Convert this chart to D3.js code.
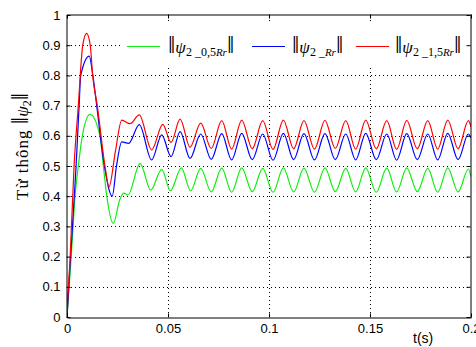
<!DOCTYPE html>
<html>
<head>
<meta charset="utf-8">
<script src="https://cdn.jsdelivr.net/npm/d3@7"></script>
<style>
  body { margin: 0; background: #fff; }
  svg { display: block; }
</style>
</head>
<body>
<svg id="chart" width="476" height="347"></svg>
<script>
// tick values
const xTickVals = [0, 0.05, 0.1, 0.15, 0.2];
const yTickVals = [0, 0.1, 0.2, 0.3, 0.4, 0.5, 0.6, 0.7, 0.8, 0.9, 1];

// start-up transient [t, value]
const greenStart = [[0, 0], [0.002, 0.19], [0.004, 0.4], [0.0056, 0.5], [0.0076, 0.6], [0.0114, 0.671],
  [0.0163, 0.6], [0.018, 0.5], [0.0197, 0.4], [0.0229, 0.31], [0.0262, 0.39], [0.028, 0.41],
  [0.0302, 0.404], [0.0362, 0.509], [0.0414, 0.42], [0.0469, 0.489], [0.0512, 0.418],
  [0.0566, 0.494], [0.0612, 0.418], [0.0662, 0.492]];
const blueStart = [[0, 0], [0.0015, 0.17], [0.0045, 0.5], [0.006, 0.7], [0.0068, 0.8], [0.011, 0.864],
  [0.0128, 0.8], [0.0147, 0.7], [0.0185, 0.5], [0.0224, 0.40], [0.0245, 0.5], [0.0271, 0.58],
  [0.0305, 0.575], [0.0358, 0.637], [0.0419, 0.52], [0.0469, 0.603], [0.0515, 0.531],
  [0.056, 0.614], [0.0609, 0.525], [0.0662, 0.606]];
const redStart = [[0, 0], [0.0003, 0.05], [0.0015, 0.19], [0.0035, 0.5], [0.0056, 0.7], [0.0078, 0.9],
  [0.0097, 0.939], [0.0115, 0.9], [0.0127, 0.8], [0.015, 0.7], [0.0188, 0.5], [0.0208, 0.431],
  [0.024, 0.55], [0.0271, 0.652], [0.0312, 0.64], [0.0358, 0.669], [0.0419, 0.553],
  [0.0474, 0.638], [0.0515, 0.578], [0.056, 0.655], [0.0609, 0.562], [0.0662, 0.642]];

// steady ripple: times of troughs / peaks, then values per series
const tSteady = [0.0714, 0.0766, 0.0815, 0.0865, 0.0917, 0.0969, 0.1020, 0.1071, 0.1122, 0.1173,
  0.1225, 0.1277, 0.1328, 0.1380, 0.1429, 0.1479, 0.1531, 0.1583, 0.1632, 0.1682, 0.1734,
  0.1786, 0.1835, 0.1885, 0.1936, 0.1987, 0.2];
const greenSteady = [0.414, 0.493, 0.413, 0.494, 0.415, 0.492, 0.413, 0.494, 0.414, 0.493, 0.413,
  0.494, 0.415, 0.492, 0.414, 0.494, 0.413, 0.493, 0.414, 0.494, 0.415, 0.492, 0.413, 0.494,
  0.414, 0.49, 0.465];
const blueSteady = [0.522, 0.607, 0.520, 0.608, 0.521, 0.606, 0.519, 0.608, 0.521, 0.607, 0.520,
  0.607, 0.521, 0.606, 0.520, 0.608, 0.521, 0.606, 0.519, 0.607, 0.521, 0.606, 0.520, 0.608,
  0.521, 0.606, 0.593];
const redSteady = [0.558, 0.650, 0.556, 0.652, 0.557, 0.650, 0.555, 0.652, 0.557, 0.650, 0.556,
  0.651, 0.558, 0.650, 0.556, 0.652, 0.557, 0.650, 0.555, 0.651, 0.557, 0.650, 0.556, 0.652,
  0.557, 0.650, 0.63];

const seriesNames = ["_0,5", "_", "_1,5"];
const seriesColors = ["#11ee11", "#0000ff", "#ff0000"];

const svg = d3.select("#chart");
const x = d3.scaleLinear().domain([0, 0.2]).range([67, 471]);
const y = d3.scaleLinear().domain([0, 1]).range([317, 15]);
const fmt = d => String(+d.toFixed(2));

svg.append("rect").attr("width", 476).attr("height", 347).attr("fill", "#fff");

svg.append("clipPath").attr("id", "plot")
  .append("rect").attr("x", 67).attr("y", 15).attr("width", 404).attr("height", 302);

// dotted grid
const grid = svg.append("g").attr("stroke", "#000").attr("stroke-width", 1)
  .attr("stroke-dasharray", "1,3").attr("shape-rendering", "crispEdges");
grid.selectAll(".gx").data(xTickVals.slice(1, -1)).join("line")
  .attr("x1", d => Math.round(x(d)) + 0.5).attr("x2", d => Math.round(x(d)) + 0.5)
  .attr("y1", y(0)).attr("y2", y(1));
grid.selectAll(".gy").data(yTickVals.slice(1, -1)).join("line")
  .attr("y1", d => Math.round(y(d)) + 0.5).attr("y2", d => Math.round(y(d)) + 0.5)
  .attr("x1", x(0)).attr("x2", x(0.2));

// legend box hides the grid behind it
svg.append("rect").attr("x", 122).attr("y", 23).attr("width", 346).attr("height", 45).attr("fill", "#fff");

// curves
const line = d3.line().x(d => x(d[0])).y(d => y(d[1])).curve(d3.curveMonotoneX);
const allSeries = [
  greenStart.concat(tSteady.map((t, i) => [t, greenSteady[i]])),
  blueStart.concat(tSteady.map((t, i) => [t, blueSteady[i]])),
  redStart.concat(tSteady.map((t, i) => [t, redSteady[i]]))
];
svg.append("g").attr("clip-path", "url(#plot)")
  .selectAll("path").data(allSeries).join("path")
  .attr("d", line).attr("fill", "none")
  .attr("stroke", (d, i) => seriesColors[i]).attr("stroke-width", 1.2);

// axes, ticks pointing inwards
const tickFont = g => g.selectAll("text").attr("font-family", "Liberation Sans, Arial, sans-serif")
  .attr("font-size", 13).attr("fill", "#000");
const bottom = svg.append("g").attr("transform", "translate(0,317.5)")
  .call(d3.axisBottom(x).tickValues(xTickVals).tickFormat(fmt).tickSizeInner(-4).tickSizeOuter(0).tickPadding(6))
  .call(tickFont);
const left = svg.append("g").attr("transform", "translate(66.5,0)")
  .call(d3.axisLeft(y).tickValues(yTickVals).tickFormat(fmt).tickSizeInner(-4).tickSizeOuter(0).tickPadding(6))
  .call(tickFont);
svg.append("g").attr("transform", "translate(0,14.5)")
  .call(d3.axisTop(x).tickValues(xTickVals).tickFormat("").tickSizeInner(-4).tickSizeOuter(0));
svg.append("g").attr("transform", "translate(470.5,0)")
  .call(d3.axisRight(y).tickValues(yTickVals).tickFormat("").tickSizeInner(-4).tickSizeOuter(0));
svg.selectAll(".domain").attr("stroke", "#000");
svg.selectAll(".tick line").attr("stroke", "#000");

// legend
const legX = [127, 252, 356];
const legTextX = [168, 292, 395];
const leg = svg.append("g");
seriesNames.forEach((name, i) => {
  leg.append("line").attr("x1", legX[i]).attr("x2", legX[i] + 33).attr("y1", 46.5).attr("y2", 46.5)
    .attr("stroke", seriesColors[i]).attr("stroke-width", 1.2);
  const t = leg.append("text").attr("x", legTextX[i]).attr("y", 53)
    .attr("font-family", "Liberation Serif, Times New Roman, serif").attr("fill", "#000");
  t.append("tspan").attr("font-size", 26).text("‖");
  t.append("tspan").attr("font-size", 17).attr("font-style", "italic").text("ψ");
  t.append("tspan").attr("font-size", 12).attr("dy", 3).text("2 " + name);
  t.append("tspan").attr("font-size", 11).attr("font-style", "italic").text("Rr");
  t.append("tspan").attr("font-size", 26).attr("dy", -3).text("‖");
});

// y label
const yl = svg.append("text").attr("transform", "translate(28,200) rotate(-90)")
  .attr("font-family", "Liberation Serif, Times New Roman, serif").attr("fill", "#000");
yl.append("tspan").attr("font-size", 17).attr("letter-spacing", 1).text("Từ thông ");
yl.append("tspan").attr("font-size", 26).text("‖");
yl.append("tspan").attr("font-size", 17).attr("font-style", "italic").text("ψ");
yl.append("tspan").attr("font-size", 12).attr("dy", 3).text("2");
yl.append("tspan").attr("font-size", 26).attr("dy", -3).text("‖");

// x label
svg.append("text").attr("x", 413).attr("y", 343)
  .attr("font-family", "Liberation Sans, Arial, sans-serif").attr("font-size", 14)
  .attr("fill", "#000").text("t(s)");
</script>
</body>
</html>
